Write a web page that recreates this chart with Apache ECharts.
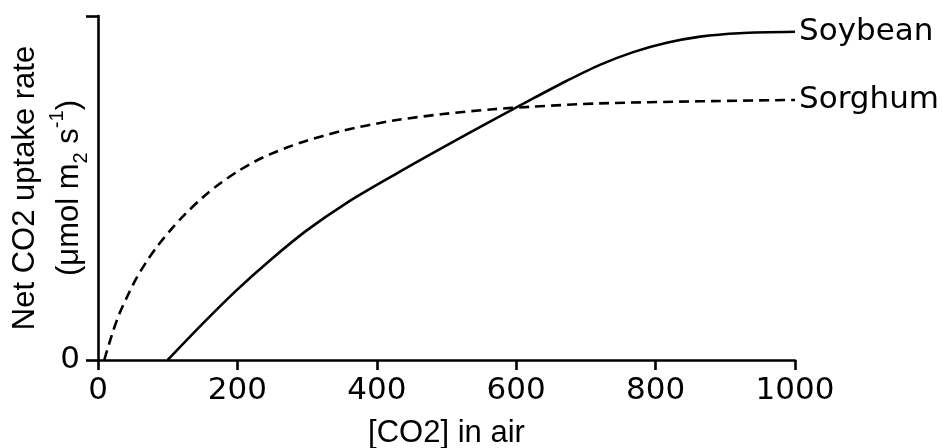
<!DOCTYPE html>
<html>
<head>
<meta charset="utf-8">
<title>CO2 uptake</title>
<script src="https://cdn.jsdelivr.net/npm/echarts@6/dist/echarts.min.js"></script>
<style>
  html, body { margin: 0; padding: 0; background: #fff; }
  #chart { width: 942px; height: 448px; }
</style>
</head>
<body>
<div id="chart"></div>
<script>
// x ticks
var xTicks = [0, 200, 400, 600, 800, 1000];

// soybean (solid)
var soybeanX = [100, 146, 199, 247, 299, 357, 424, 495, 577, 625, 672, 720, 768, 816, 864, 920, 1000];
var soybeanY = [0, 9.7, 20.3, 29.0, 37.6, 45.7, 53.7, 61.8, 70.9, 76.1, 81.1, 85.8, 89.5, 92.2, 94.0, 95.0, 95.4];

// sorghum (dashed)
var sorghumX = [9, 21, 31, 43, 55, 69, 86, 105, 124, 151, 175, 201, 225, 249, 273, 294, 352, 424, 495, 567, 620, 720, 863, 1000];
var sorghumY = [0, 8.0, 13.6, 18.9, 23.7, 28.4, 33.3, 38.0, 42.2, 47.4, 51.3, 54.9, 57.7, 60.0, 61.9, 63.4, 66.7, 69.6, 71.5, 72.9, 73.6, 74.6, 75.2, 75.6];

function pairs(xs, ys) {
	var out = [];
	xs.forEach(function (x, i) { out.push([x, ys[i]]); });
	return out;
}

var chart = echarts.init(document.getElementById('chart'));
var tickFont = 'DejaVu Sans';
var nameFont = 'Liberation Sans';

var option = {
	animation: false,
	grid: { left: 98, right: 147, top: 16, bottom: 88, containLabel: false, outerBoundsMode: 'none' },
	xAxis: {
		type: 'value',
		min: 0,
		max: 1000,
		interval: 200,
		name: '[CO2] in air',
		nameLocation: 'middle',
		nameGap: 58,
		nameTextStyle: { fontFamily: nameFont, fontSize: 31, color: '#000' },
		axisLine: { onZero: false, lineStyle: { color: '#000', width: 2.6 } },
		axisTick: { show: true, length: 10, lineStyle: { color: '#000', width: 2.6 } },
		axisLabel: {
			fontFamily: tickFont, fontSize: 31, color: '#000', margin: 15,
			formatter: function (v) { return xTicks.indexOf(v) >= 0 ? String(v) : ''; }
		},
		splitLine: { show: false }
	},
	yAxis: {
		type: 'value',
		min: 0,
		max: 100,
		interval: 100,
		name: '{a|Net CO2 uptake rate}\n{a|(μmol m}{sub|2}{a| s}{sup|-1}{a|)}',
		nameLocation: 'middle',
		nameRotate: 90,
		nameGap: 7,
		nameMoveOverlap: false,
		nameTextStyle: {
			fontFamily: nameFont, fontSize: 31, color: '#000',
			rich: {
				a: { fontFamily: nameFont, fontSize: 31, lineHeight: 44, color: '#000' },
				sub: { fontFamily: nameFont, fontSize: 20, lineHeight: 26, verticalAlign: 'bottom', color: '#000' },
				sup: { fontFamily: nameFont, fontSize: 20, lineHeight: 28, verticalAlign: 'top', color: '#000' }
			}
		},
		axisLine: { show: true, lineStyle: { color: '#000', width: 2.6 } },
		axisTick: { show: true, length: 12, lineStyle: { color: '#000', width: 2.6 } },
		axisLabel: {
			fontFamily: tickFont, fontSize: 31, color: '#000', margin: 18,
			formatter: function (v) { return v === 0 ? '0' : ''; }
		},
		splitLine: { show: false }
	},
	series: [
		{
			name: 'Soybean',
			type: 'line',
			data: pairs(soybeanX, soybeanY),
			smooth: 0.3,
			showSymbol: false,
			lineStyle: { color: '#000', width: 2.6 },
			endLabel: {
				show: true, formatter: '{a}', distance: 4,
				fontFamily: tickFont, fontSize: 31, color: '#000'
			}
		},
		{
			name: 'Sorghum',
			type: 'line',
			data: pairs(sorghumX, sorghumY),
			smooth: 0.3,
			showSymbol: false,
			lineStyle: { color: '#000', width: 2.6, type: [10, 6] },
			endLabel: {
				show: true, formatter: '{a}', distance: 4,
				fontFamily: tickFont, fontSize: 31, color: '#000'
			}
		}
	]
};

chart.setOption(option);
</script>
</body>
</html>
